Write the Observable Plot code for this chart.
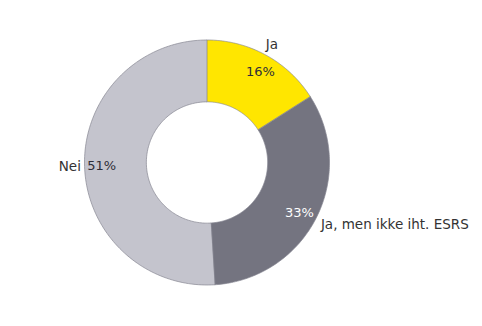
<!DOCTYPE html>
<html>
<head>
<meta charset="utf-8">
<script src="https://cdn.jsdelivr.net/npm/d3@7"></script>
<script src="https://cdn.jsdelivr.net/npm/@observablehq/plot@0.6"></script>
<style>
  html, body { margin: 0; padding: 0; background: #fff; }
</style>
</head>
<body>
<div id="chart"></div>
<script>
const categories = ["Ja", "Ja, men ikke iht. ESRS", "Nei"];
const values = [16, 33, 51];
const colors = ["#FFE600", "#747480", "#C4C4CD"];
const pctColors = ["#2e2e38", "#ffffff", "#2e2e38"];

const inner = 0.495;
const total = d3.sum(values);
const pie = d3.pie().sort(null).value(d => d.value)(
  categories.map((c, i) => ({ key: c, value: values[i], i }))
);

// polygon vertices (in unit-circle data space) for each slice
function slicePoints(s) {
  const n = 120, pts = [];
  for (let k = 0; k <= n; k++) {
    const a = s.startAngle + (s.endAngle - s.startAngle) * k / n;
    pts.push({ key: s.data.key, x: Math.sin(a), y: Math.cos(a) });
  }
  for (let k = n; k >= 0; k--) {
    const a = s.startAngle + (s.endAngle - s.startAngle) * k / n;
    pts.push({ key: s.data.key, x: inner * Math.sin(a), y: inner * Math.cos(a) });
  }
  return pts;
}

const marks = pie.map(s => Plot.line(slicePoints(s), {
  x: "x", y: "y", fill: colors[s.data.i], stroke: "#868692", strokeWidth: 0.7,
  curve: "linear-closed"
}));

// percentage labels
const pctLabels = pie.map(s => {
  const a = (s.startAngle + s.endAngle) / 2 + (s.data.i === 2 ? 0 : 0.03);
  const r = 0.86;
  return { x: r * Math.sin(a), y: r * Math.cos(a), text: Math.round(s.data.value / total * 100) + "%", i: s.data.i };
});
pctLabels.forEach(d => marks.push(Plot.text([d], {
  x: "x", y: "y", text: "text", fill: pctColors[d.i], fontSize: 13
})));

// category name labels
const nameLabels = pie.map(s => {
  const mid = (s.startAngle + s.endAngle) / 2;
  const sx0 = Math.sin(mid);
  const anchor = Math.abs(sx0) < 0.6 ? "middle" : (sx0 > 0 ? "start" : "end");
  const a = mid + (anchor === "start" ? 0.03 : 0);
  const r = anchor === "middle" ? 1.1 : (anchor === "start" ? 1.06 : 1.03);
  return { x: r * Math.sin(a), y: r * Math.cos(a), text: s.data.key, anchor };
});
nameLabels.forEach(d => marks.push(Plot.text([d], {
  x: "x", y: "y", text: "text", fill: "#333333", fontSize: 13.5, textAnchor: d.anchor
})));

const chart = Plot.plot({
  width: 482,
  height: 326,
  margin: 0,
  x: { domain: [-1, 1], range: [84, 329], axis: null },
  y: { domain: [-1, 1], range: [284.5, 39.5], axis: null },
  style: { background: "#fff", fontFamily: "DejaVu Sans, Verdana, sans-serif" },
  marks
});
document.getElementById("chart").appendChild(chart);
</script>
</body>
</html>
